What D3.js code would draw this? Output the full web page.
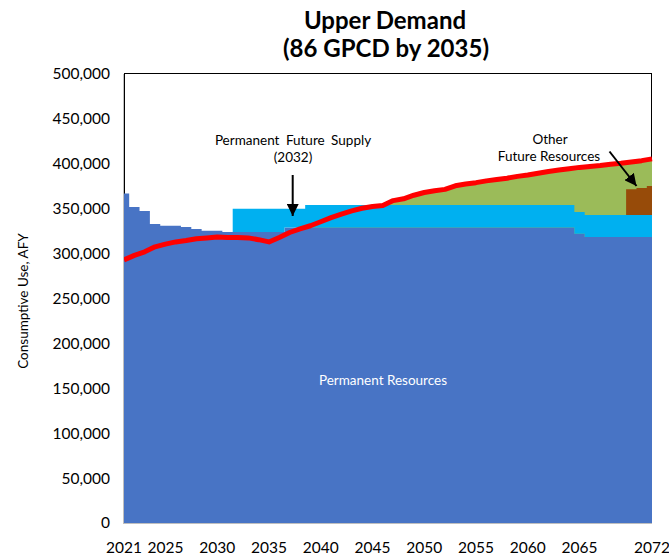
<!DOCTYPE html>
<html><head><meta charset="utf-8">
<script src="https://cdn.jsdelivr.net/npm/d3@7"></script>
<style>
html,body{margin:0;padding:0;background:#fff;}
svg{display:block;font-family:Lato,"Open Sans",sans-serif;}
</style></head>
<body><svg id="c" width="669" height="558"></svg>
<script>
const years = d3.range(2021, 2073);
const xTickLabels = [2021, 2025, 2030, 2035, 2040, 2045, 2050, 2055, 2060, 2065, 2072];
const yTicks = [0, 50000, 100000, 150000, 200000, 250000, 300000, 350000, 400000, 450000, 500000];

// Permanent Resources (AFY)
const permanent = [
  367000, 352000, 347500, 333000, 331000, 331000, 329500, 327500, 325500, 325500, // 2021-2030
  324000, 324000, 324000, 324000, 324000, 324000, 329000, 329000, 329000, 329000, // 2031-2040
  329000, 329000, 329000, 329000, 329000, 329000, 329000, 329000, 329000, 329000, // 2041-2050
  329000, 329000, 329000, 329000, 329000, 329000, 329000, 329000, 329000, 329000, // 2051-2060
  329000, 329000, 329000, 329000, 322000, 318500, 318500, 318500, 318500, 318500, // 2061-2070
  318500, 318500                                                                  // 2071-2072
];
// Permanent Future Supply (from 2032)
const futureSupply = [
  0, 0, 0, 0, 0, 0, 0, 0, 0, 0,
  0, 26000, 26000, 26000, 26000, 26000, 21000, 21000, 25000, 25000,
  25000, 25000, 25000, 25000, 25000, 25000, 25000, 25000, 25000, 25000,
  25000, 25000, 25000, 25000, 25000, 25000, 25000, 25000, 25000, 25000,
  25000, 25000, 25000, 25000, 24300, 24500, 24500, 24500, 24500, 24500,
  24500, 24500
];
// Other Future Resources
const otherFuture = [
  0, 0, 0, 0, 0, 0, 0, 0, 0, 0,
  0, 0, 0, 0, 0, 0, 0, 0, 0, 0,
  0, 0, 0, 0, 0, 0, 0, 0, 0, 0,
  0, 0, 0, 0, 0, 0, 0, 0, 0, 0,
  0, 0, 0, 0, 0, 0, 0, 0, 0, 28600,
  30000, 32300
];
// Upper Demand (86 GPCD by 2035)
const demand = [
  293000, 298000, 302000, 307500, 310500, 313000, 314500, 316500, 317500, 318500, // 2021-2030
  318000, 318000, 317500, 315500, 313000, 318000, 323500, 327500, 331000, 335500, // 2031-2040
  340000, 344000, 347500, 350500, 352500, 353500, 359000, 361000, 365000, 368000, // 2041-2050
  370000, 371500, 375500, 377500, 379000, 381000, 382500, 384000, 386000, 387500, // 2051-2060
  389500, 391500, 393000, 394500, 396000, 397000, 398000, 399500, 400500, 402000, // 2061-2070
  403500, 405500                                                                  // 2071-2072
];

const colors = {perm: "#4874C5", supply: "#00B0F0", other: "#974B09", green: "#9BBB59", red: "#FF0000"};

const svg = d3.select("#c");
const x = d3.scaleLinear().domain([2021, 2072]).range([124, 652]);
const y = d3.scaleLinear().domain([0, 500000]).range([523, 74]);

const rows = years.map((yr, i) => ({year: yr, perm: permanent[i], supply: futureSupply[i], other: otherFuture[i], demand: demand[i]}));
const stack = d3.stack().keys(["perm", "supply", "other"])(rows);

// plot frame
svg.append("rect").attr("x", 124.5).attr("y", 73.5).attr("width", 527).attr("height", 449.5)
  .attr("fill", "none").attr("stroke", "#000").attr("stroke-width", 1);

// Future resources (green): gap up to demand
svg.append("path").datum(rows)
  .attr("fill", colors.green)
  .attr("d", d3.area().x(d => x(d.year)).y0(y(0)).y1(d => y(d.demand)));

const fills = {perm: colors.perm, supply: colors.supply, other: colors.other};
stack.forEach(s => {
  svg.append("path").datum(s)
    .attr("fill", fills[s.key])
    .attr("d", d3.area().curve(d3.curveStep)
      .x((d, i) => x(years[i])).y0(d => y(d[0])).y1(d => y(d[1])));
});

// demand line
svg.append("path").datum(rows)
  .attr("fill", "none").attr("stroke", colors.red).attr("stroke-width", 5)
  .attr("stroke-linejoin", "round")
  .attr("d", d3.line().x(d => x(d.year)).y(d => y(d.demand)));

// axes lines
svg.append("line").attr("x1", 123.5).attr("x2", 123.5).attr("y1", 74).attr("y2", 523.5).attr("stroke", "#BFBFBF");
svg.append("line").attr("x1", 123).attr("x2", 652).attr("y1", 523.5).attr("y2", 523.5).attr("stroke", "#BFBFBF");

// y tick labels
svg.append("g").selectAll("text").data(yTicks).join("text")
  .attr("x", 110).attr("y", d => y(d)).attr("dy", "0.35em")
  .attr("text-anchor", "end").attr("font-size", 15.5).attr("fill", "#000")
  .text(d => d3.format(",")(d));

// x tick labels
svg.append("g").selectAll("text").data(xTickLabels).join("text")
  .attr("x", d => x(d)).attr("y", 548).attr("dy", "0.35em")
  .attr("text-anchor", "middle").attr("font-size", 15.5).attr("fill", "#000")
  .text(d => d);

// title
const title = svg.append("text").attr("text-anchor", "middle").attr("font-weight", "bold")
  .attr("font-size", 24).attr("fill", "#000");
title.append("tspan").attr("x", 385).attr("y", 29).text("Upper Demand");
title.append("tspan").attr("x", 386).attr("y", 57).text("(86 GPCD by 2035)");

// y axis title
svg.append("text").attr("transform", "translate(23,301) rotate(-90)")
  .attr("text-anchor", "middle").attr("dy", "0.35em").attr("font-size", 13.5).attr("fill", "#000")
  .text("Consumptive Use, AFY");

// annotations
const ann1 = svg.append("text").attr("text-anchor", "middle").attr("font-size", 13.5).attr("fill", "#000")
  .attr("word-spacing", 3);
ann1.append("tspan").attr("x", 293).attr("y", 145).text("Permanent Future Supply");
ann1.append("tspan").attr("x", 293).attr("y", 162).text("(2032)");

const ann2 = svg.append("text").attr("text-anchor", "middle").attr("font-size", 13.5).attr("fill", "#000");
ann2.append("tspan").attr("x", 550).attr("y", 144).text("Other");
ann2.append("tspan").attr("x", 549).attr("y", 161).text("Future Resources");

svg.append("text").attr("x", 383).attr("y", 380).attr("dy", "0.35em").attr("text-anchor", "middle")
  .attr("font-size", 13.5).attr("fill", "#fff").text("Permanent Resources");

// arrows
const defs = svg.append("defs");
defs.append("marker").attr("id", "ah").attr("viewBox", "0 0 10 10").attr("refX", 10).attr("refY", 5)
  .attr("markerWidth", 6).attr("markerHeight", 6).attr("markerUnits", "strokeWidth").attr("orient", "auto")
  .append("path").attr("d", "M0,0 L10,5 L0,10 Z").attr("fill", "#000");

svg.append("line").attr("x1", 292.7).attr("y1", 175).attr("x2", 292.7).attr("y2", 216)
  .attr("stroke", "#000").attr("stroke-width", 2).attr("marker-end", "url(#ah)");
svg.append("line").attr("x1", 609.5).attr("y1", 151.5).attr("x2", 636.5).attr("y2", 186)
  .attr("stroke", "#000").attr("stroke-width", 2).attr("marker-end", "url(#ah)");
</script></body></html>
